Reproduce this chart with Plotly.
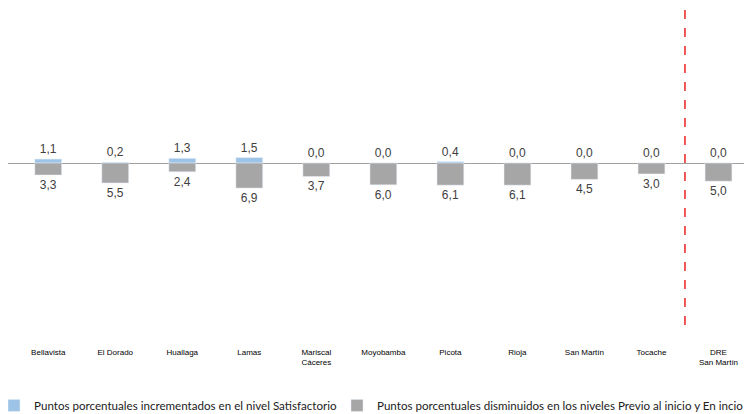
import plotly.graph_objects as go

categories = ["Bellavista", "El Dorado", "Huallaga", "Lamas", "Mariscal<br>Cáceres",
              "Moyobamba", "Picota", "Rioja", "San Martín", "Tocache", "DRE<br>San Martín"]
satisfactorio = [1.1, 0.2, 1.3, 1.5, 0.0, 0.0, 0.4, 0.0, 0.0, 0.0, 0.0]
disminuidos = [3.3, 5.5, 2.4, 6.9, 3.7, 6.0, 6.1, 6.1, 4.5, 3.0, 5.0]

name1 = "Puntos porcentuales incrementados en el nivel Satisfactorio"
name2 = "Puntos porcentuales disminuidos en los niveles Previo al inicio y En incio"

def fmt(v):
    return f"{v:.1f}".replace(".", ",")

xs = list(range(len(categories)))

fig = go.Figure()
fig.add_trace(go.Bar(
    x=xs, y=satisfactorio, name=name1, marker_color="#9dc3e6",
    text=[fmt(v) for v in satisfactorio], textposition="outside",
    textfont=dict(family="Liberation Sans", size=12, color="#404040"),
    width=0.4, cliponaxis=False, legend="legend",
))
fig.add_trace(go.Bar(
    x=xs, y=[-v for v in disminuidos], name=name2, marker_color="#a6a6a6",
    text=[fmt(v) for v in disminuidos], textposition="outside",
    textfont=dict(family="Liberation Sans", size=12, color="#404040"),
    width=0.4, cliponaxis=False, legend="legend2",
))

fig.add_shape(type="line", xref="x", yref="paper", x0=9.5, x1=9.5, y0=0, y1=1,
              line=dict(color="#ee2222", width=1.5, dash="dash"))

legend_font = dict(family="Lato", size=11.6, color="#222222")

fig.update_layout(
    width=744, height=406,
    margin=dict(l=0, r=0, t=0, b=89, autoexpand=False),
    paper_bgcolor="white", plot_bgcolor="white",
    barmode="overlay",
    showlegend=True,
    legend=dict(orientation="h", x=-0.0188, xanchor="left", y=-0.208, yanchor="top",
                font=legend_font, itemwidth=30, bgcolor="rgba(0,0,0,0)",
                entrywidth=320, entrywidthmode="pixels"),
    legend2=dict(orientation="h", x=0.4422, xanchor="left", y=-0.208, yanchor="top",
                 font=legend_font, itemwidth=30, bgcolor="rgba(0,0,0,0)"),
    xaxis=dict(tickmode="array", tickvals=xs, ticktext=categories,
               range=[-0.6, 10.5], showgrid=False, showline=False,
               ticks="outside", ticklen=19, tickcolor="rgba(0,0,0,0)",
               tickfont=dict(family="Liberation Sans", size=8, color="#000000")),
    yaxis=dict(range=[-44.7, 42.8], visible=True, showticklabels=False, showgrid=False,
               zeroline=True, zerolinecolor="#a0a0a0", zerolinewidth=1),
)

fig.write_html("out.html")
